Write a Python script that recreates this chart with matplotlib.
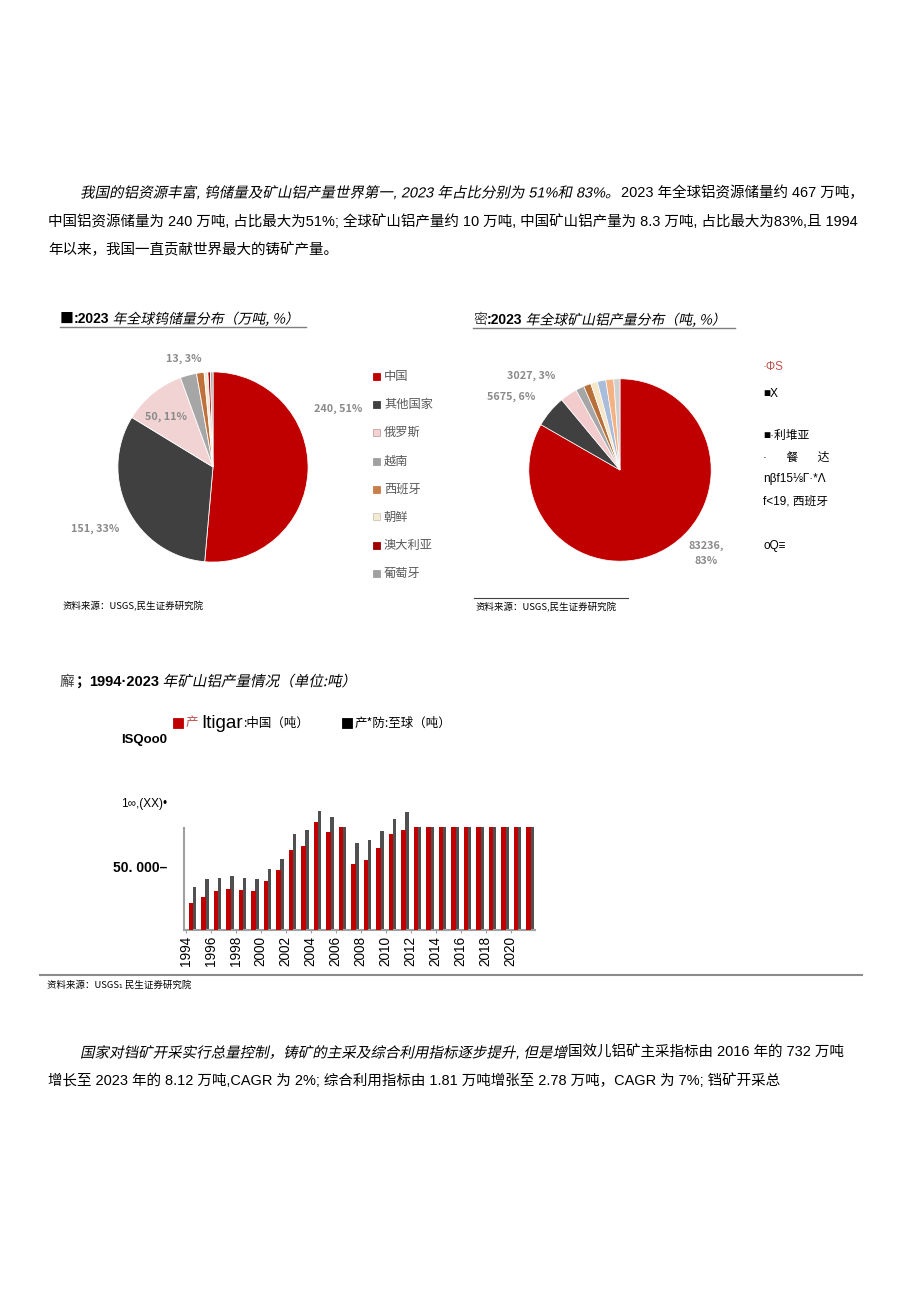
import matplotlib
matplotlib.use('Agg')
import matplotlib.pyplot as plt
from matplotlib.patheffects import AbstractPathEffect
from matplotlib.transforms import Affine2D
from matplotlib.patches import Rectangle
from matplotlib.lines import Line2D

plt.rcParams['font.family'] = ['Noto Sans CJK SC', 'DejaVu Sans']

W, H = 920, 1301
LAT = ['Liberation Sans', 'Noto Sans CJK SC', 'DejaVu Sans']

# ---------------- data ----------------
pie1_names = ['中国', '其他国家', '俄罗斯', '越南', '西班牙', '朝鲜', '澳大利亚', '葡萄牙']
pie1_values = [240, 151, 50, 13, 6, 3, 2, 2]
pie1_colors = ['#C00000', '#404040', '#F2D3D3', '#A6A6A6', '#C0703A', '#F3EAD6', '#B00000', '#A6A6A6']
pie1_labels = ['240, 51%', '151, 33%', '50, 11%', '13, 3%']

pie2_values = [83236, 5675, 3027, 1500, 1300, 1200, 1500, 1400, 1100]
pie2_colors = ['#C00000', '#404040', '#F2CCCC', '#A6A6A6', '#B8703A', '#F5E6C8', '#A9BCD9', '#F4B183', '#D0CECE']
pie2_labels = ['83236,\n83%', '5675, 6%', '3027, 3%']
pie2_legend = ['·ΦS', '■X', '■·利堆亚', '·      餐      达', 'nβf15⅛Γ·*Λ', 'f<19, 西班牙', 'oQ≡']

years = list(range(1994, 2022))
china = [21300, 26000, 30200, 31800, 31250, 30200, 38000, 46900, 62500, 65600,
         84600, 76800, 80700, 51300, 54700, 64300, 74700, 78100,
         80700, 80700, 80700, 80700, 80700, 80700, 80700, 80700, 80700, 80700]
world = [33300, 39600, 40900, 42200, 40900, 39600, 47400, 55200, 74700, 78100,
         93000, 88500, 80700, 68200, 70300, 77300, 86700, 91900,
         80700, 80700, 80700, 80700, 80700, 80700, 80700, 80700, 80700, 80700]
ytick_vals = [50000, 100000, 150000]
ytick_text = ['50. 000–', '1∞,(XX)•', 'ISQoo0']

fig = plt.figure(figsize=(W / 100, H / 100), dpi=100)
fig.patch.set_facecolor('white')
R = fig.canvas.get_renderer()


class Warp(AbstractPathEffect):
    def __init__(self, skew=0.0, sx=1.0):
        super().__init__()
        self.t = Affine2D().scale(sx, 1.0).skew_deg(skew, 0)

    def draw_path(self, renderer, gc, tpath, affine, rgbFace=None):
        renderer.draw_path(gc, tpath, self.t + affine, rgbFace)


ITAL = [Warp(12)]


def ftext(x, y, s, **kw):
    return fig.text(x / W, 1 - y / H, s, **kw)


def runs(x, y, parts):
    for s, kw in parts:
        kw = dict(kw)
        gap = kw.pop('gap', 0)
        x += gap
        t = fig.text(x / W, 1 - y / H, s, ha='left', va='center', **kw)
        bb = t.get_window_extent(R)
        x = bb.x1
    return x


def hline(x0, x1, y, color='#7f7f7f', lw=1.0):
    fig.add_artist(Line2D([x0 / W, x1 / W], [1 - y / H, 1 - y / H], color=color, lw=lw,
                          transform=fig.transFigure))


def square(x, y, size, color, ec=None):
    fig.add_artist(Rectangle((x / W, 1 - (y + size / 2) / H), size / W, size / H,
                             facecolor=color, edgecolor=ec if ec else color, lw=0.6,
                             transform=fig.transFigure))


PS = 10.45
# ---------------- paragraph 1 ----------------
runs(80, 193, [('我国的铝资源丰富, 钨储量及矿山铝产量世界第一, 2023 年占比分别为 51%和 83%。',
                dict(fontsize=PS, family=LAT, path_effects=ITAL)),
               ('2023 年全球铝资源储量约 467 万吨，', dict(fontsize=PS, family=LAT, gap=2))])
ftext(48, 222, '中国铝资源储量为 240 万吨, 占比最大为51%; 全球矿山铝产量约 10 万吨, 中国矿山铝产量为 8.3 万吨, 占比最大为83%,且 1994',
      fontsize=PS, family=LAT, va='center')
ftext(48, 250, '年以来，我国一直贡献世界最大的铸矿产量。', fontsize=PS, family=LAT, va='center')

# ---------------- pie 1 ----------------
runs(60, 319, [('■', dict(fontsize=10)), (':2023', dict(fontsize=10, fontweight='bold', family=LAT)),
               (' 年全球钨储量分布（万吨, %）', dict(fontsize=10, path_effects=ITAL))])
hline(60, 306, 327)

cx, cy, r = 213, 467, 97
ax1 = fig.add_axes([(cx - r) / W, 1 - (cy + r) / H, 2 * r / W, 2 * r / H])
ax1.pie(pie1_values, colors=pie1_colors, startangle=90, counterclock=False, radius=1,
        wedgeprops=dict(edgecolor='white', linewidth=0.6))
ax1.set_xlim(-1.02, 1.02)
ax1.set_ylim(-1.02, 1.02)
ax1.axis('off')

lab_pos1 = [(338, 409), (95, 529), (166, 417), (184, 359)]
for (lx, ly), s in zip(lab_pos1, pie1_labels):
    ftext(lx, ly, s, fontsize=7.8, color='#8a8a8a', ha='center', va='center', fontweight='bold')

leg_y1 = [376, 404, 432, 461, 489, 517, 546, 573]
leg_c1 = ['#C00000', '#404040', '#F2D3D3', '#A0A0A0', '#C87D4B', '#F3EAD6', '#A00000', '#A0A0A0']
leg_e1 = [None, None, '#C9A0A0', None, None, '#CFC6B0', None, None]
for yy, c, e, n in zip(leg_y1, leg_c1, leg_e1, pie1_names):
    square(373, yy, 7, c, e)
    ftext(384, yy, n, fontsize=8.8, color='#595959', va='center')

ftext(63, 606, '资料来源：USGS,民生证券研究院', fontsize=6.8, va='center')

# ---------------- pie 2 ----------------
runs(473, 320, [('密', dict(fontsize=10, color='#404040')), (':2023', dict(fontsize=10, fontweight='bold', family=LAT)),
                (' 年全球矿山铝产量分布（吨, %）', dict(fontsize=10, path_effects=ITAL))])
hline(473, 735, 328)

cx2, cy2, r2 = 620, 470, 93
ax2 = fig.add_axes([(cx2 - r2) / W, 1 - (cy2 + r2) / H, 2 * r2 / W, 2 * r2 / H])
ax2.pie(pie2_values, colors=pie2_colors, startangle=90, counterclock=False, radius=1,
        wedgeprops=dict(edgecolor='white', linewidth=0.5))
ax2.set_xlim(-1.02, 1.02)
ax2.set_ylim(-1.02, 1.02)
ax2.axis('off')

lab_pos2 = [(706, 553), (511, 397), (531, 376)]
for (lx, ly), s in zip(lab_pos2, pie2_labels):
    ftext(lx, ly, s, fontsize=7.8, color='#8a8a8a', ha='center', va='center', fontweight='bold',
          linespacing=1.6)

leg_y2 = [367, 394, 436, 458, 479, 501, 546]
leg_col2 = ['#C0504D', 'black', 'black', 'black', 'black', 'black', 'black']
for yy, s, c in zip(leg_y2, pie2_legend, leg_col2):
    ftext(763, yy, s, fontsize=8.5, color=c, va='center', family=LAT)

hline(474, 628, 598, color='#404040', lw=0.8)
ftext(476, 607, '资料来源：USGS,民生证券研究院', fontsize=6.8, va='center')

# ---------------- bar chart ----------------
runs(60, 682, [('廨', dict(fontsize=10.5, color='#404040')),
               ('；', dict(fontsize=10.5, fontweight='bold')),
               ('1994·2023', dict(fontsize=10.5, fontweight='bold', family=LAT)),
               (' 年矿山铝产量情况（单位:吨）', dict(fontsize=10.5, path_effects=ITAL))])

square(173, 723, 10, '#C00000')
runs(186, 723, [('产', dict(fontsize=9, color='#C0504D')),
                ('Itigar', dict(fontsize=13.5, family=LAT, gap=3)),
                (':中国（吨）', dict(fontsize=9))])
square(342, 723, 10, 'black')
runs(355, 723, [('产*防:至球（吨）', dict(fontsize=9))])

ax3 = fig.add_axes([184 / W, 1 - 930 / H, 351 / W, 192 / H])
idx = list(range(len(years)))
ax3.bar([i + 0.2 for i in idx], world, width=0.3, color='#505050', zorder=2)
ax3.bar([i - 0.08 for i in idx], china, width=0.34, color='#C00000', zorder=3)
ax3.set_xlim(-0.64, 27.44)
ax3.set_ylim(0, 150000)
for s in ['top', 'right']:
    ax3.spines[s].set_visible(False)
ax3.spines['left'].set_bounds(0, 80000)
ax3.spines['left'].set_color('#a0a0a0')
ax3.spines['left'].set_linewidth(1.5)
ax3.spines['bottom'].set_color('#a0a0a0')
ax3.spines['bottom'].set_linewidth(1.5)
ax3.set_yticks(ytick_vals)
ax3.set_yticklabels(ytick_text)
ax3.tick_params(axis='y', length=0, pad=12)
for lab, fw, fs in zip(ax3.get_yticklabels(), ['bold', 'normal', 'bold'], [10, 8.5, 9.5]):
    lab.set_fontweight(fw)
    lab.set_fontsize(fs)
    lab.set_family(['Liberation Sans', 'DejaVu Sans'])
xt = [i - 0.5 for i in idx if i % 2 == 0]
ax3.set_xticks(xt)
ax3.set_xticklabels([str(years[i]) for i in idx if i % 2 == 0], rotation=90,
                    fontsize=9.8, family=['Liberation Sans', 'DejaVu Sans'])
ax3.tick_params(axis='x', length=2, color='#a0a0a0', pad=2)

hline(40, 862, 975, color='#8c8c8c', lw=1.5)
ftext(47, 985, '资料来源：USGS₁ 民生证券研究院', fontsize=6.8, va='center')

# ---------------- paragraph 2 ----------------
runs(80, 1053, [('国家对铛矿开采实行总量控制，铸矿的主采及综合利用指标逐步提升, 但是增',
                 dict(fontsize=PS, family=LAT, path_effects=ITAL)),
                ('国效儿铝矿主采指标由 2016 年的 732 万吨', dict(fontsize=PS, family=LAT, gap=1))])
ftext(48, 1081, '增长至 2023 年的 8.12 万吨,CAGR 为 2%; 综合利用指标由 1.81 万吨增张至 2.78 万吨，CAGR 为 7%; 铛矿开采总',
      fontsize=PS, family=LAT, va='center')

fig.savefig('out.png', dpi=100, facecolor='white')
